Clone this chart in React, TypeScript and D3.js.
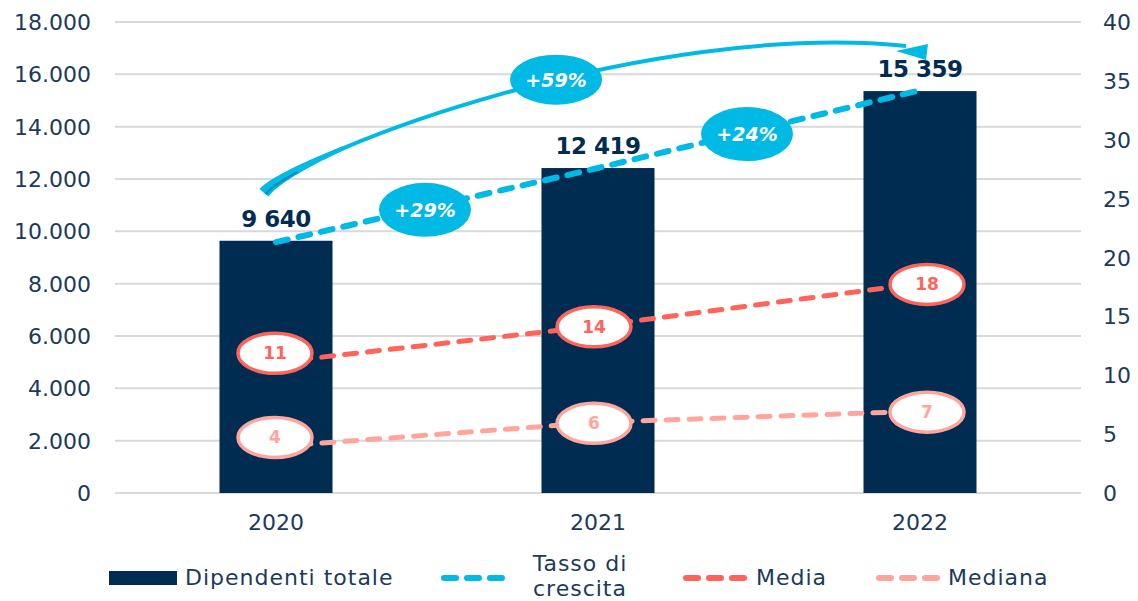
import React from 'react'
import * as d3 from 'd3'

// chart data
const years = ['2020', '2021', '2022']
const dipendenti = [9640, 12419, 15359]
const tasso = [21.3, 27.6, 34.2]
const media = [11.1, 14.2, 17.8]
const mediana = [3.95, 6.0, 6.95]
const leftTicks = [0, 2000, 4000, 6000, 8000, 10000, 12000, 14000, 16000, 18000]
const rightTicks = [0, 5, 10, 15, 20, 25, 30, 35, 40]

const NAVY = '#012c52'
const TEXT = '#1b3a5c'
const CYAN = '#00b9e4'
const RED = '#ff645a'
const PINK = '#ffa59c'
const GRID = '#d9d9d9'
const FONT = '"DejaVu Sans", sans-serif'

const W = 1138
const H = 601
const margin = { top: 22, right: 57, bottom: 108, left: 115 }

const itLocale = d3.formatLocale({ decimal: ',', thousands: '.', grouping: [3], currency: ['€', ''] })
const fmtAxis = itLocale.format(',d')
const spLocale = d3.formatLocale({ decimal: ',', thousands: ' ', grouping: [3], currency: ['€', ''] })
const fmtBar = spLocale.format(',d')

export default function App() {
  const x = d3
    .scaleBand()
    .domain(years)
    .range([margin.left, W - margin.right])
    .paddingInner(0.649)
    .paddingOuter(0.3245)

  const yL = d3.scaleLinear().domain([0, 18000]).range([H - margin.bottom, margin.top])
  const yR = d3.scaleLinear().domain([0, 40]).range([H - margin.bottom, margin.top])
  const cx = (i: number) => (x(years[i]) as number) + x.bandwidth() / 2

  const line = d3
    .line<number>()
    .x((_, i) => cx(i))
    .y(d => yR(d))

  // growth bubbles along the tasso line
  const growth = [1, 2].map(i => {
    const xm = (cx(i - 1) + cx(i)) / 2 - 12
    const f = (xm - cx(i - 1)) / (cx(i) - cx(i - 1))
    const ym = yR(tasso[i - 1]) + f * (yR(tasso[i]) - yR(tasso[i - 1]))
    const pct = Math.round((dipendenti[i] / dipendenti[i - 1] - 1) * 100)
    return { x: xm, y: ym, label: `+${pct}%` }
  })
  const totalPct = Math.round((dipendenti[2] / dipendenti[0] - 1) * 100)

  // big curved arrow 2020 -> 2022
  const p0 = [cx(0) - 12, yL(dipendenti[0]) - 48]
  const p1 = [cx(0) + 24, 150]
  const p2 = [cx(1) + 52, 20]
  const p3 = [cx(2) - 14, 46]
  const bez = (t: number, k: number) =>
    (1 - t) ** 3 * p0[k] + 3 * (1 - t) ** 2 * t * p1[k] + 3 * (1 - t) * t * t * p2[k] + t ** 3 * p3[k]
  const dbez = (t: number, k: number) =>
    3 * (1 - t) ** 2 * (p1[k] - p0[k]) + 6 * (1 - t) * t * (p2[k] - p1[k]) + 3 * t * t * (p3[k] - p2[k])
  const arcPath = `M${p0[0]},${p0[1]} C${p1[0]},${p1[1]} ${p2[0]},${p2[1]} ${p3[0]},${p3[1]}`
  const bigBubble = { x: bez(0.57, 0), y: bez(0.57, 1) }
  const tip = [cx(2) + 6, 60]

  // tapered tail at the start of the arrow
  const ts = d3.range(0, 0.26, 0.01)
  const side = (sgn: number, wmax: number, wmin: number) =>
    ts.map(t => {
      const dx = dbez(t, 0)
      const dy = dbez(t, 1)
      const len = Math.hypot(dx, dy)
      const w = wmax + (wmin - wmax) * (t / 0.25)
      return [bez(t, 0) + (-dy / len) * sgn * w / 2, bez(t, 1) + (dx / len) * sgn * w / 2] as [number, number]
    })
  const tail = d3.line()([...side(1, 12, 4), ...side(-1, 12, 4).reverse()]) + 'Z'
  const shade = d3.line()(
    d3.range(0, 0.14, 0.01).map(t => {
      const dx = dbez(t, 0)
      const dy = dbez(t, 1)
      const len = Math.hypot(dx, dy)
      return [bez(t, 0) + (-dy / len) * 2, bez(t, 1) + (dx / len) * 2] as [number, number]
    })
  )

  const dash = '12 11'

  const ellipseLabels = (vals: number[], color: string) =>
    vals.map((v, i) => {
      const ex = cx(i) + (i === 2 ? 7 : i === 1 ? -4 : -1)
      const ey = yR(v) + (i === 0 ? -9 : 1)
      return (
        <g key={i}>
          <ellipse cx={ex} cy={ey} rx={37} ry={20} fill="#fff" stroke={color} strokeWidth={3.5} />
          <text
            x={ex}
            y={ey + 6}
            textAnchor="middle"
            fontFamily={FONT}
            fontWeight="bold"
            fontSize={17}
            fill={color}
          >
            {Math.round(v)}
          </text>
        </g>
      )
    })

  const legendText = { fontFamily: FONT, fontSize: 22, fill: TEXT, letterSpacing: 1 }

  return (
    <svg width={W} height={H} style={{ position: 'absolute', left: 0, top: 0 }}>
      <rect width={W} height={H} fill="#fff" />

      {/* gridlines */}
      {leftTicks.map(t => (
        <line key={t} x1={margin.left} x2={W - margin.right} y1={yL(t)} y2={yL(t)} stroke={GRID} strokeWidth={2} />
      ))}

      {/* left axis */}
      {leftTicks.map(t => (
        <text key={t} x={91} y={yL(t) + 8} textAnchor="end" fontFamily={FONT} fontSize={22} fill={TEXT}>
          {fmtAxis(t)}
        </text>
      ))}
      {/* right axis */}
      {rightTicks.map(t => (
        <text key={t} x={1103} y={yR(t) + 8} textAnchor="start" fontFamily={FONT} fontSize={22} fill={TEXT}>
          {t}
        </text>
      ))}
      {/* x axis labels */}
      {years.map((yr, i) => (
        <text key={yr} x={cx(i)} y={530} textAnchor="middle" fontFamily={FONT} fontSize={22} fill={TEXT}>
          {yr}
        </text>
      ))}

      {/* bars */}
      {dipendenti.map((d, i) => (
        <rect
          key={i}
          x={x(years[i])}
          y={yL(d)}
          width={x.bandwidth()}
          height={yL(0) - yL(d)}
          fill={NAVY}
        />
      ))}
      {dipendenti.map((d, i) => (
        <text
          key={i}
          x={cx(i)}
          y={yL(d) - 14}
          textAnchor="middle"
          fontFamily={FONT}
          fontWeight="bold"
          fontSize={23}
          letterSpacing={-0.5}
          fill={NAVY}
        >
          {fmtBar(d)}
        </text>
      ))}

      {/* big arrow */}
      <path d={arcPath} fill="none" stroke={CYAN} strokeWidth={4} />
      <path d={tail} fill={CYAN} />
      <path d={shade ?? ''} fill="none" stroke="#0793bb" strokeWidth={2.5} />
      <path d={`M${p3[0] - 10},${p3[1] + 5} L${tip[0] + 2},${tip[1] - 16} L${tip[0]},${tip[1]} Z`} fill={CYAN} />

      {/* lines */}
      <path d={line(mediana) ?? ''} fill="none" stroke={PINK} strokeWidth={5} strokeDasharray={dash} strokeLinecap="round" />
      <path d={line(media) ?? ''} fill="none" stroke={RED} strokeWidth={5} strokeDasharray={dash} strokeLinecap="round" />
      <path d={line(tasso) ?? ''} fill="none" stroke={CYAN} strokeWidth={6} strokeDasharray={dash} strokeLinecap="round" />

      {ellipseLabels(media, RED)}
      {ellipseLabels(mediana, PINK)}

      {/* growth bubbles */}
      {growth.map((g, i) => (
        <g key={i}>
          <ellipse cx={g.x} cy={g.y + 2} rx={46} ry={27} fill={CYAN} />
          <text
            x={g.x}
            y={g.y + 9}
            textAnchor="middle"
            fontFamily={FONT}
            fontWeight="bold"
            fontStyle="italic"
            fontSize={19}
            fill="#fff"
          >
            {g.label}
          </text>
        </g>
      ))}
      <ellipse cx={bigBubble.x} cy={bigBubble.y} rx={46} ry={25} fill={CYAN} />
      <text
        x={bigBubble.x}
        y={bigBubble.y + 7}
        textAnchor="middle"
        fontFamily={FONT}
        fontWeight="bold"
        fontStyle="italic"
        fontSize={19}
        fill="#fff"
      >
        {`+${totalPct}%`}
      </text>

      {/* legend */}
      <rect x={109} y={571} width={68} height={14} fill={NAVY} />
      <text x={185} y={585} {...legendText}>
        Dipendenti totale
      </text>
      <line x1={444} x2={502} y1={578} y2={578} stroke={CYAN} strokeWidth={6} strokeDasharray={dash} strokeLinecap="round" />
      <text x={580} y={571} textAnchor="middle" {...legendText}>
        Tasso di
      </text>
      <text x={580} y={596} textAnchor="middle" {...legendText}>
        crescita
      </text>
      <line x1={686} x2={744} y1={578} y2={578} stroke={RED} strokeWidth={6} strokeDasharray={dash} strokeLinecap="round" />
      <text x={756} y={585} {...legendText}>
        Media
      </text>
      <line x1={879} x2={937} y1={578} y2={578} stroke={PINK} strokeWidth={6} strokeDasharray={dash} strokeLinecap="round" />
      <text x={948} y={585} {...legendText}>
        Mediana
      </text>
    </svg>
  )
}
